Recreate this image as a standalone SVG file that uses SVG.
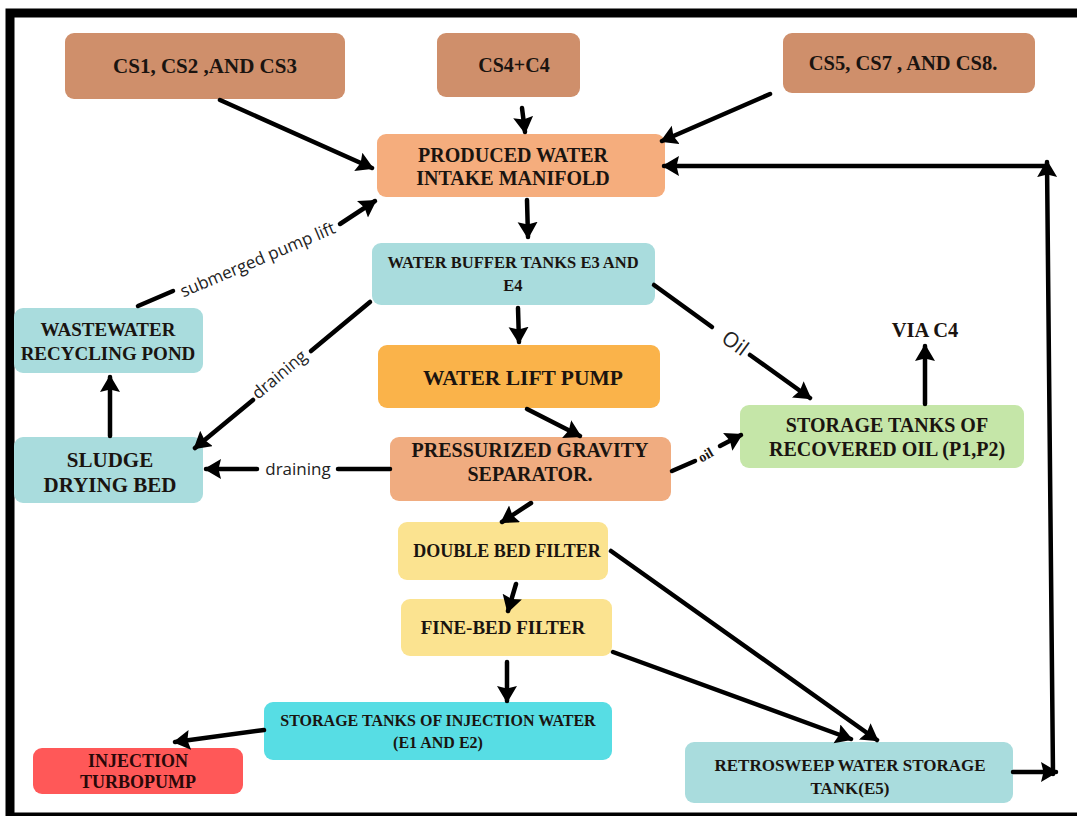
<svg xmlns="http://www.w3.org/2000/svg" width="1077" height="816" viewBox="0 0 1077 816">
<defs>
<marker id="ah" markerUnits="userSpaceOnUse" markerWidth="20" markerHeight="22" refX="15" refY="10" orient="auto">
<path d="M0,0 L17,10 L0,20 L2.5,10 z" fill="#000"/>
</marker>
</defs>
<style>
.n{stroke:none}
.t{font-family:"Liberation Serif","Times New Roman",serif;font-weight:bold;fill:#1a1410;text-anchor:middle}
.c{stroke:#000;stroke-width:4.5;fill:none;stroke-linecap:round}
.a{marker-end:url(#ah)}
.l{font-family:"Open Sans","Lato",sans-serif;fill:#222;text-anchor:middle}
</style>
<rect x="1" y="1" width="1076" height="815" fill="#fff"/>
<rect x="10" y="13" width="1085" height="804" fill="none" stroke="#000" stroke-width="9"/>

<g id="cs1"><rect class="n" x="65" y="33" width="280" height="66" rx="9" fill="#CF8F6B"/><text class="t" x="205" y="73" font-size="21">CS1, CS2 ,AND CS3</text></g>
<g id="cs4"><rect class="n" x="437" y="33" width="143" height="64" rx="9" fill="#CF8F6B"/><text class="t" x="514" y="72" font-size="20">CS4+C4</text></g>
<g id="cs5"><rect class="n" x="783" y="33" width="252" height="60" rx="9" fill="#CF8F6B"/><text class="t" x="903" y="70" font-size="20.5">CS5, CS7 , AND CS8.</text></g>
<g id="pw"><rect class="n" x="377" y="134" width="288" height="63" rx="9" fill="#F5AD7D"/><text class="t" x="513" y="162" font-size="20">PRODUCED WATER</text><text class="t" x="513" y="185" font-size="20">INTAKE MANIFOLD</text></g>
<g id="wbt"><rect class="n" x="372" y="243" width="283" height="62" rx="9" fill="#A9DCDD"/><text class="t" x="513" y="268" font-size="16.5">WATER BUFFER TANKS E3 AND</text><text class="t" x="513" y="291" font-size="16.5">E4</text></g>
<g id="wlp"><rect class="n" x="378" y="345" width="282" height="63" rx="9" fill="#FAB34A"/><text class="t" x="523" y="385" font-size="21.5">WATER LIFT PUMP</text></g>
<g id="pgs"><rect class="n" x="390" y="437" width="281" height="64" rx="9" fill="#F0AC80"/><text class="t" x="530" y="457" font-size="20">PRESSURIZED GRAVITY</text><text class="t" x="530" y="481" font-size="20">SEPARATOR.</text></g>
<g id="oil"><rect class="n" x="740" y="405" width="284" height="63" rx="9" fill="#C5E6A8"/><text class="t" x="887" y="432" font-size="20">STORAGE TANKS OF</text><text class="t" x="887" y="456" font-size="20">RECOVERED OIL (P1,P2)</text></g>
<g id="via"><text class="t" x="925" y="337" font-size="20.5">VIA C4</text></g>
<g id="pond"><rect class="n" x="14" y="308" width="189" height="65" rx="9" fill="#A9DCDD"/><text class="t" x="108" y="336" font-size="19">WASTEWATER</text><text class="t" x="108" y="360" font-size="19">RECYCLING POND</text></g>
<g id="sludge"><rect class="n" x="14" y="437" width="189" height="66" rx="9" fill="#A9DCDD"/><text class="t" x="110" y="467" font-size="21">SLUDGE</text><text class="t" x="110" y="492" font-size="21">DRYING BED</text></g>
<g id="dbf"><rect class="n" x="398" y="522" width="210" height="58" rx="9" fill="#FBE390"/><text class="t" x="507" y="557" font-size="18">DOUBLE BED FILTER</text></g>
<g id="fbf"><rect class="n" x="401" y="599" width="211" height="57" rx="9" fill="#FBE390"/><text class="t" x="503" y="634" font-size="19">FINE-BED FILTER</text></g>
<g id="inj"><rect class="n" x="264" y="702" width="348" height="58" rx="9" fill="#57DDE4"/><text class="t" x="438" y="726" font-size="16">STORAGE TANKS OF INJECTION WATER</text><text class="t" x="438" y="748" font-size="16">(E1 AND E2)</text></g>
<g id="turbo"><rect class="n" x="33" y="748" width="210" height="46" rx="9" fill="#FF5858"/><text class="t" x="138" y="767" font-size="18" style="fill:#2a0808">INJECTION</text><text class="t" x="138" y="788" font-size="18" style="fill:#2a0808">TURBOPUMP</text></g>
<g id="retro"><rect class="n" x="685" y="742" width="328" height="61" rx="9" fill="#A9DCDD"/><text class="t" x="850" y="771" font-size="17">RETROSWEEP WATER STORAGE</text><text class="t" x="850" y="794" font-size="17">TANK(E5)</text></g>

<g id="connectors">
<line class="c a" x1="220" y1="100" x2="372" y2="168"/>
<line class="c a" x1="522" y1="108" x2="525" y2="132"/>
<line class="c a" x1="770" y1="94" x2="662" y2="141"/>
<line class="c a" x1="1047" y1="166" x2="664" y2="166"/>
<line class="c a" x1="1053" y1="774" x2="1047" y2="162"/>
<line class="c a" x1="1013" y1="772" x2="1056" y2="772"/>
<line class="c a" x1="527" y1="200" x2="528" y2="237"/>
<line class="c a" x1="518" y1="308" x2="519" y2="342"/>
<line class="c a" x1="527" y1="409" x2="580" y2="436"/>
<line class="c a" x1="531" y1="503" x2="502" y2="522"/>
<line class="c a" x1="516" y1="584" x2="508" y2="611"/>
<line class="c a" x1="507" y1="662" x2="507" y2="701"/>
<line class="c a" x1="264" y1="730" x2="175" y2="742"/>
<line class="c a" x1="611" y1="551" x2="877" y2="740"/>
<line class="c a" x1="613" y1="652" x2="851" y2="739"/>
<line class="c a" x1="925" y1="404" x2="925" y2="346"/>
<line class="c" x1="654" y1="285" x2="712" y2="327"/>
<line class="c a" x1="750" y1="355" x2="810" y2="398"/>
<text class="l" x="0" y="0" font-size="21" transform="translate(731,349) rotate(36)">Oil</text>
<line class="c" x1="672" y1="471" x2="695" y2="461"/>
<line class="c a" x1="720" y1="446" x2="741" y2="435"/>
<text class="t" x="0" y="0" font-size="14" transform="translate(708,459) rotate(-30)">oil</text>
<line class="c" x1="370" y1="302" x2="311" y2="351"/>
<line class="c a" x1="253" y1="400" x2="195" y2="448"/>
<text class="l" x="0" y="0" font-size="17" transform="translate(283,379) rotate(-40)">draining</text>
<line class="c" x1="390" y1="469" x2="338" y2="469"/>
<line class="c a" x1="257" y1="469" x2="206" y2="469"/>
<text class="l" x="298" y="475" font-size="17">draining</text>
<line class="c a" x1="110" y1="436" x2="110" y2="377"/>
<line class="c" x1="138" y1="306" x2="173" y2="291"/>
<line class="c a" x1="340" y1="224" x2="375" y2="201"/>
<text class="l" x="0" y="0" font-size="17" transform="translate(260,265) rotate(-23)">submerged pump lift</text>
</g>
</svg>
